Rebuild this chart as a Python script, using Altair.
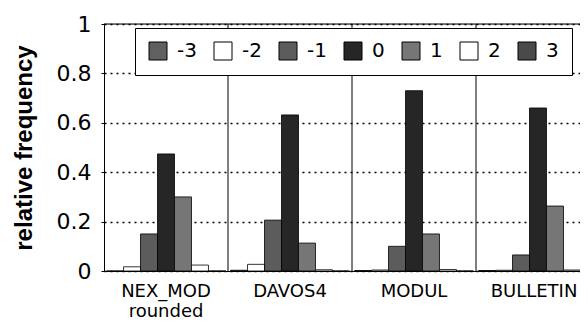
import altair as alt
import pandas as pd

groups = ["NEX_MOD rounded", "DAVOS4", "MODUL", "BULLETIN"]
classes = ["-3", "-2", "-1", "0", "1", "2", "3"]
values = {
    "NEX_MOD rounded": [0.0, 0.017, 0.15, 0.474, 0.30, 0.024, 0.0],
    "DAVOS4": [0.003, 0.027, 0.206, 0.632, 0.113, 0.005, 0.0],
    "MODUL": [0.002, 0.004, 0.10, 0.73, 0.15, 0.006, 0.0],
    "BULLETIN": [0.002, 0.003, 0.065, 0.66, 0.263, 0.004, 0.0],
}
colors = ["#606060", "#ffffff", "#5c5c5c", "#262626", "#767676", "#ffffff", "#4a4a4a"]
y_ticks = [0, 0.1, 0.2, 0.3, 0.4, 0.5, 0.6, 0.7, 0.8, 0.9, 1.0]

rows = []
for g in groups:
    for c, v in zip(classes, values[g]):
        rows.append({"group": g, "cls": c, "value": v})
df = pd.DataFrame(rows)
sep = pd.DataFrame({"group": groups[1:]})
top = pd.DataFrame({"value": [1.0]})

FONT = "DejaVu Sans"

xscale = alt.Scale(domain=groups, paddingInner=0, paddingOuter=0, range=[0, 496])
yscale = alt.Scale(domain=[0, 1], nice=False)

bars = alt.Chart(df).mark_bar(stroke="black", strokeWidth=0.8).encode(
    x=alt.X("group:N", scale=xscale, sort=groups,
            axis=alt.Axis(title=None, labelAngle=0, ticks=False, labelPadding=11,
                          labelFont=FONT, labelFontSize=18, labelFontWeight=500,
                          labelColor="black",
                          labelLineHeight=20, labelExpr="split(datum.label, ' ')",
                          labelOffset={"condition": {"test": "datum.value === 'BULLETIN'", "value": -4}, "value": 0},
                          domainColor="black", labelBaseline="top")),
    xOffset=alt.XOffset("cls:N", sort=classes,
                        scale=alt.Scale(domain=classes, paddingInner=0, paddingOuter=0.15)),
    y=alt.Y("value:Q", scale=yscale,
            axis=alt.Axis(title="relative frequency", values=y_ticks,
                          labelExpr="datum.value == 0 ? '0' : datum.value == 1 ? '1' : (round(datum.value*10) % 2 == 0 ? format(datum.value, '.1f') : '')",
                          labelFont=FONT, labelFontSize=22, labelColor="black",
                          titleFont="Liberation Sans", titleFontSize=24, titleFontWeight="bold",
                          titleColor="black", titlePadding=20,
                          tickSize=3, tickColor="black", labelPadding=10,
                          grid=True, gridColor="black", gridDash=[2, 4], gridWidth=1.4,
                          domainColor="black")),
    color=alt.Color("cls:N", sort=classes,
                    scale=alt.Scale(domain=classes, range=colors),
                    legend=alt.Legend(title=None, orient="none", legendX=31, legendY=4,
                                      direction="horizontal", columns=7,
                                      symbolType="square", symbolSize=324,
                                      symbolStrokeColor="black", symbolStrokeWidth=1,
                                      symbolOpacity=1,
                                      labelFont=FONT, labelFontSize=20, labelColor="black",
                                      labelOffset=9, columnPadding=15, padding=13,
                                      fillColor="white", strokeColor="black")),
)

seps = alt.Chart(sep).mark_rule(color="black", strokeWidth=1).encode(
    x=alt.X("group:N", scale=xscale, bandPosition=0)
)

topline = alt.Chart(top).mark_rule(color="black", strokeWidth=1).encode(
    y=alt.Y("value:Q", scale=yscale)
)

chart = alt.layer(bars, seps, topline).properties(
    width=476, height=247,
    autosize=alt.AutoSizeParams(type="none"),
    padding={"left": 96, "top": 16, "right": 0, "bottom": 50},
).configure_view(stroke=None).configure(background="white")

chart.save("out.html", embed_options={"renderer": "svg", "actions": False})
